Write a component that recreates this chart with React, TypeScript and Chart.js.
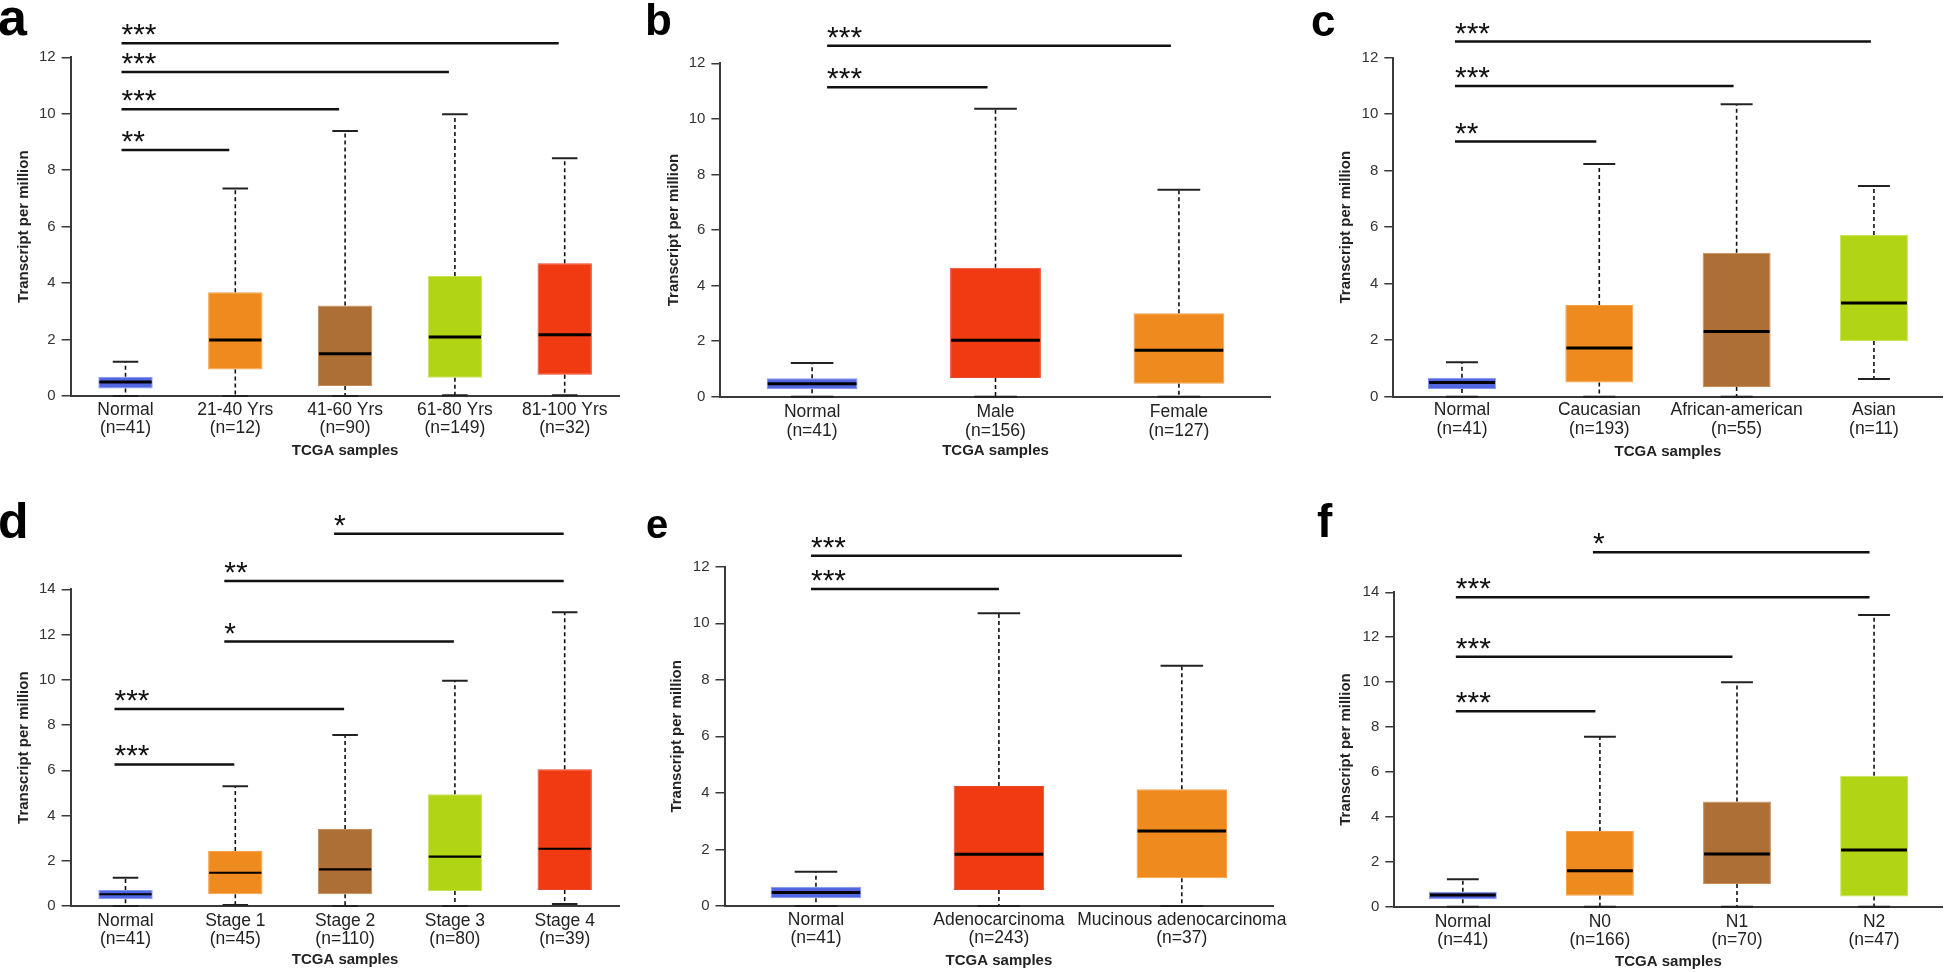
import React, { useEffect, useRef } from "react";
import { Chart, registerables } from "chart.js";

Chart.register(...registerables);

const FONT = "'Liberation Sans', Arial, Helvetica, sans-serif";

// ---------- Panel a : age ----------
const labelsA = [["Normal", "(n=41)"], ["21-40 Yrs", "(n=12)"], ["41-60 Yrs", "(n=90)"], ["61-80 Yrs", "(n=149)"], ["81-100 Yrs", "(n=32)"]];
const lowA = [0, 0, 0, 0.03, 0.03];
const q1A = [0.27, 0.94, 0.35, 0.65, 0.75];
const medA = [0.5, 1.98, 1.5, 2.09, 2.17];
const q3A = [0.68, 3.68, 3.21, 4.25, 4.7];
const highA = [1.21, 7.35, 9.39, 9.98, 8.42];
const colorsA = ["blue", "orange", "brown", "lime", "red"];
const sigA: [number, number, number, string][] = [[0, 4, 12.5, "***"], [0, 3, 11.48, "***"], [0, 2, 10.16, "***"], [0, 1, 8.72, "**"]];
const yMaxA = 12;

// ---------- Panel b : gender ----------
const labelsB = [["Normal", "(n=41)"], ["Male", "(n=156)"], ["Female", "(n=127)"]];
const lowB = [0, 0, 0];
const q1B = [0.27, 0.67, 0.47];
const medB = [0.47, 2.03, 1.67];
const q3B = [0.66, 4.64, 3.0];
const highB = [1.21, 10.36, 7.45];
const colorsB = ["blue", "red", "orange"];
const sigB: [number, number, number, string][] = [[0, 2, 12.63, "***"], [0, 1, 11.14, "***"]];
const yMaxB = 12;

// ---------- Panel c : race ----------
const labelsC = [["Normal", "(n=41)"], ["Caucasian", "(n=193)"], ["African-american", "(n=55)"], ["Asian", "(n=11)"]];
const lowC = [0, 0, 0, 0.63];
const q1C = [0.27, 0.5, 0.34, 1.97];
const medC = [0.5, 1.72, 2.31, 3.32];
const q3C = [0.67, 3.25, 5.1, 5.72];
const highC = [1.22, 8.24, 10.35, 7.46];
const colorsC = ["blue", "orange", "brown", "lime"];
const sigC: [number, number, number, string][] = [[0, 3, 12.57, "***"], [0, 2, 11.0, "***"], [0, 1, 9.03, "**"]];
const yMaxC = 12;

// ---------- Panel d : stage ----------
const labelsD = [["Normal", "(n=41)"], ["Stage 1", "(n=45)"], ["Stage 2", "(n=110)"], ["Stage 3", "(n=80)"], ["Stage 4", "(n=39)"]];
const lowD = [0, 0.04, 0, 0, 0.09];
const q1D = [0.3, 0.52, 0.52, 0.66, 0.71];
const medD = [0.52, 1.47, 1.62, 2.18, 2.53];
const q3D = [0.71, 2.43, 3.4, 4.94, 6.04];
const highD = [1.25, 5.29, 7.56, 9.96, 12.98];
const colorsD = ["blue", "orange", "brown", "lime", "red"];
const sigD: [number, number, number, string][] = [[2, 4, 16.46, "*"], [1, 4, 14.37, "**"], [1, 3, 11.69, "*"], [0, 2, 8.71, "***"], [0, 1, 6.26, "***"]];
const yMaxD = 14;

// ---------- Panel e : histology ----------
const labelsE = [["Normal", "(n=41)"], ["Adenocarcinoma", "(n=243)"], ["Mucinous adenocarcinoma", "(n=37)"]];
const lowE = [0, 0, 0];
const q1E = [0.27, 0.57, 0.98];
const medE = [0.48, 1.83, 2.65];
const q3E = [0.68, 4.24, 4.13];
const highE = [1.21, 10.35, 8.5];
const colorsE = ["blue", "red", "orange"];
const sigE: [number, number, number, string][] = [[0, 2, 12.39, "***"], [0, 1, 11.21, "***"]];
const yMaxE = 12;

// ---------- Panel f : nodal status ----------
const labelsF = [["Normal", "(n=41)"], ["N0", "(n=166)"], ["N1", "(n=70)"], ["N2", "(n=47)"]];
const lowF = [0, 0, 0, 0];
const q1F = [0.33, 0.49, 1.01, 0.45];
const medF = [0.52, 1.6, 2.35, 2.52];
const q3F = [0.67, 3.37, 4.68, 5.83];
const highF = [1.22, 7.57, 10.0, 12.99];
const colorsF = ["blue", "orange", "brown", "lime"];
const sigF: [number, number, number, string][] = [[1, 3, 15.78, "*"], [0, 3, 13.78, "***"], [0, 2, 11.13, "***"], [0, 1, 8.7, "***"]];
const yMaxF = 14;

// ---------- styles ----------
const FILL: Record<string, string> = { blue: "#5166E0", orange: "#EF8A1F", brown: "#AD6F36", lime: "#B1D414", red: "#F03A11" };
const EDGE: Record<string, string> = { blue: "#8494F2", orange: "#F3A04A", brown: "#C58B58", lime: "#C8E35A", red: "#E8452A" };

type PanelData = {
  letter: string;
  labels: string[][];
  low: number[]; q1: number[]; med: number[]; q3: number[]; high: number[];
  colors: string[];
  sig: [number, number, number, string][];
  yMax: number;
};

type PanelLayout = {
  left: number; top: number; w: number; h: number;
  pad: { left: number; right: number; top: number; bottom: number };
  yw: number; xh: number; tickPad: number;
  startDx: number; endDx: number; medW: number;
  letterSize: number; letterLeft: number; letterBase: number;
};

const PANELS: { data: PanelData; lay: PanelLayout }[] = [
  {
    data: { letter: "a", labels: labelsA, low: lowA, q1: q1A, med: medA, q3: q3A, high: highA, colors: colorsA, sig: sigA, yMax: yMaxA },
    lay: { left: 0, top: 0, w: 640, h: 480, pad: { left: 14.7, right: 20.4, top: 57.3, bottom: 20 }, yw: 55.9, xh: 64, tickPad: 5, startDx: -4, endDx: -6, medW: 3, letterSize: 52, letterLeft: -2, letterBase: 35 },
  },
  {
    data: { letter: "b", labels: labelsB, low: lowB, q1: q1B, med: medB, q3: q3B, high: highB, colors: colorsB, sig: sigB, yMax: yMaxB },
    lay: { left: 640, top: 0, w: 640, h: 480, pad: { left: 24.9, right: 9.4, top: 63.3, bottom: 20.3 }, yw: 55.5, xh: 63, tickPad: 6.5, startDx: 15, endDx: -8, medW: 3, letterSize: 44, letterLeft: 645, letterBase: 35 },
  },
  {
    data: { letter: "c", labels: labelsC, low: lowC, q1: q1C, med: medC, q3: q3C, high: highC, colors: colorsC, sig: sigC, yMax: yMaxC },
    lay: { left: 1290, top: 0, w: 654, h: 480, pad: { left: 46.7, right: 1.4, top: 57.7, bottom: 19.3 }, yw: 56.6, xh: 64, tickPad: 4.5, startDx: -7, endDx: -3, medW: 3, letterSize: 44, letterLeft: 1311, letterBase: 36 },
  },
  {
    data: { letter: "d", labels: labelsD, low: lowD, q1: q1D, med: medD, q3: q3D, high: highD, colors: colorsD, sig: sigD, yMax: yMaxD },
    lay: { left: 0, top: 486, w: 640, h: 486, pad: { left: 14.7, right: 20.4, top: 103.3, bottom: 3 }, yw: 55.9, xh: 63, tickPad: 5.5, startDx: -11, endDx: -1, medW: 2.2, letterSize: 50, letterLeft: -2, letterBase: 538 },
  },
  {
    data: { letter: "e", labels: labelsE, low: lowE, q1: q1E, med: medE, q3: q3E, high: highE, colors: colorsE, sig: sigE, yMax: yMaxE },
    lay: { left: 640, top: 486, w: 670, h: 486, pad: { left: 27.7, right: 36.7, top: 80.7, bottom: 2.3 }, yw: 56.8, xh: 63.7, tickPad: 5, startDx: -5, endDx: 0, medW: 3, letterSize: 40, letterLeft: 646, letterBase: 538 },
  },
  {
    data: { letter: "f", labels: labelsF, low: lowF, q1: q1F, med: medF, q3: q3F, high: highF, colors: colorsF, sig: sigF, yMax: yMaxF },
    lay: { left: 1290, top: 486, w: 654, h: 486, pad: { left: 47.3, right: 1.4, top: 106.3, bottom: 1.3 }, yw: 57, xh: 64, tickPad: 6, startDx: -7, endDx: -4.5, medW: 3, letterSize: 46, letterLeft: 1317, letterBase: 537 },
  },
];

function makeBoxPlugin(d: PanelData, L: PanelLayout) {
  return {
    id: "boxExtras" + d.letter,
    afterDatasetsDraw(chart: any) {
      const ctx = chart.ctx as CanvasRenderingContext2D;
      const xs = chart.scales.x;
      const ys = chart.scales.y;
      const meta = chart.getDatasetMeta(0);
      ctx.save();
      d.q1.forEach((_v, i) => {
        const bar = meta.data[i] as any;
        const bw = bar.width as number;
        const x = xs.getPixelForValue(i);
        const yLo = ys.getPixelForValue(d.low[i]);
        const yQ1 = ys.getPixelForValue(d.q1[i]);
        const yMed = ys.getPixelForValue(d.med[i]);
        const yQ3 = ys.getPixelForValue(d.q3[i]);
        const yHi = ys.getPixelForValue(d.high[i]);
        ctx.strokeStyle = "#111";
        // dashed whiskers
        ctx.lineWidth = 1.6;
        ctx.setLineDash([4, 3]);
        ctx.beginPath();
        ctx.moveTo(x, yQ3);
        ctx.lineTo(x, yHi);
        ctx.moveTo(x, yQ1);
        ctx.lineTo(x, yLo);
        ctx.stroke();
        ctx.setLineDash([]);
        // caps
        const cw = bw * 0.47;
        ctx.lineWidth = 2;
        ctx.strokeStyle = "#222";
        ctx.beginPath();
        ctx.moveTo(x - cw / 2, yHi);
        ctx.lineTo(x + cw / 2, yHi);
        ctx.moveTo(x - cw / 2, yLo);
        ctx.lineTo(x + cw / 2, yLo);
        ctx.stroke();
        // median
        ctx.strokeStyle = "#000";
        ctx.lineWidth = L.medW;
        ctx.beginPath();
        ctx.moveTo(x - bw / 2 + 1, yMed);
        ctx.lineTo(x + bw / 2 - 1, yMed);
        ctx.stroke();
      });
      ctx.restore();
    },
    afterDraw(chart: any) {
      const ctx = chart.ctx as CanvasRenderingContext2D;
      const xs = chart.scales.x;
      const ys = chart.scales.y;
      ctx.save();
      d.sig.forEach(([from, to, val, txt]) => {
        const y = ys.getPixelForValue(val);
        const x1 = xs.getPixelForValue(from) + L.startDx;
        const x2 = xs.getPixelForValue(to) + L.endDx;
        ctx.strokeStyle = "#111";
        ctx.lineWidth = 2.5;
        ctx.beginPath();
        ctx.moveTo(x1, y);
        ctx.lineTo(x2, y);
        ctx.stroke();
        ctx.fillStyle = "#111";
        ctx.font = `30px ${FONT}`;
        ctx.textAlign = "left";
        ctx.textBaseline = "alphabetic";
        ctx.fillText(txt, x1, y + 1);
      });
      ctx.restore();
    },
  };
}

function Panel({ data, lay }: { data: PanelData; lay: PanelLayout }) {
  const ref = useRef<HTMLCanvasElement>(null);
  useEffect(() => {
    const canvas = ref.current;
    if (!canvas) return;
    const chart = new Chart(canvas, {
      type: "bar",
      data: {
        labels: data.labels as any,
        datasets: [
          {
            data: data.q1.map((v, i) => [v, data.q3[i]]) as any,
            backgroundColor: data.colors.map((c) => FILL[c]),
            borderColor: data.colors.map((c) => EDGE[c]),
            borderWidth: 1,
            borderSkipped: false,
            barPercentage: 0.495,
            categoryPercentage: 1,
          },
        ],
      },
      options: {
        animation: false,
        responsive: false,
        maintainAspectRatio: false,
        events: [],
        layout: { padding: lay.pad },
        plugins: { legend: { display: false }, tooltip: { enabled: false }, title: { display: false } },
        scales: {
          x: {
            type: "category",
            offset: true,
            grid: { display: false, drawTicks: false },
            border: { display: true, color: "#3a3a3a", width: 2 },
            ticks: {
              color: "#222",
              font: { family: FONT, size: 17.5, lineHeight: 1.05 },
              padding: lay.tickPad,
              maxRotation: 0,
              minRotation: 0,
              autoSkip: false,
            },
            title: {
              display: true,
              text: "TCGA samples",
              color: "#222",
              font: { family: FONT, size: 15, weight: "bold", lineHeight: 1.2 },
              padding: 0,
            },
            afterFit: (s: any) => {
              s.height = lay.xh;
            },
          },
          y: {
            min: 0,
            max: data.yMax,
            grid: { display: true, drawOnChartArea: false, drawTicks: true, tickLength: 9, color: "#3a3a3a", lineWidth: 1.5 },
            border: { display: true, color: "#3a3a3a", width: 2 },
            ticks: { stepSize: 2, color: "#333", font: { family: FONT, size: 15 }, padding: 6 },
            title: {
              display: true,
              text: "Transcript per million",
              color: "#222",
              font: { family: FONT, size: 15, weight: "bold", lineHeight: 1.2 },
              padding: 0,
            },
            afterFit: (s: any) => {
              s.width = lay.yw;
            },
          },
        },
      } as any,
      plugins: [makeBoxPlugin(data, lay)],
    });
    return () => chart.destroy();
  }, [data, lay]);
  return (
    <canvas
      ref={ref}
      width={lay.w}
      height={lay.h}
      style={{ position: "absolute", left: lay.left, top: lay.top, width: lay.w, height: lay.h }}
    />
  );
}

export default function App() {
  return (
    <div style={{ position: "fixed", left: 0, top: 0, width: 1944, height: 972, background: "#fff", overflow: "hidden" }}>
      {PANELS.map((p) => (
        <Panel key={p.data.letter} data={p.data} lay={p.lay} />
      ))}
      {PANELS.map((p) => (
        <div
          key={"L" + p.data.letter}
          style={{
            position: "absolute",
            left: p.lay.letterLeft,
            top: p.lay.letterBase - 0.8465 * p.lay.letterSize,
            fontFamily: FONT,
            fontWeight: "bold",
            fontSize: p.lay.letterSize,
            lineHeight: 1,
            color: "#000",
          }}
        >
          {p.data.letter}
        </div>
      ))}
    </div>
  );
}
